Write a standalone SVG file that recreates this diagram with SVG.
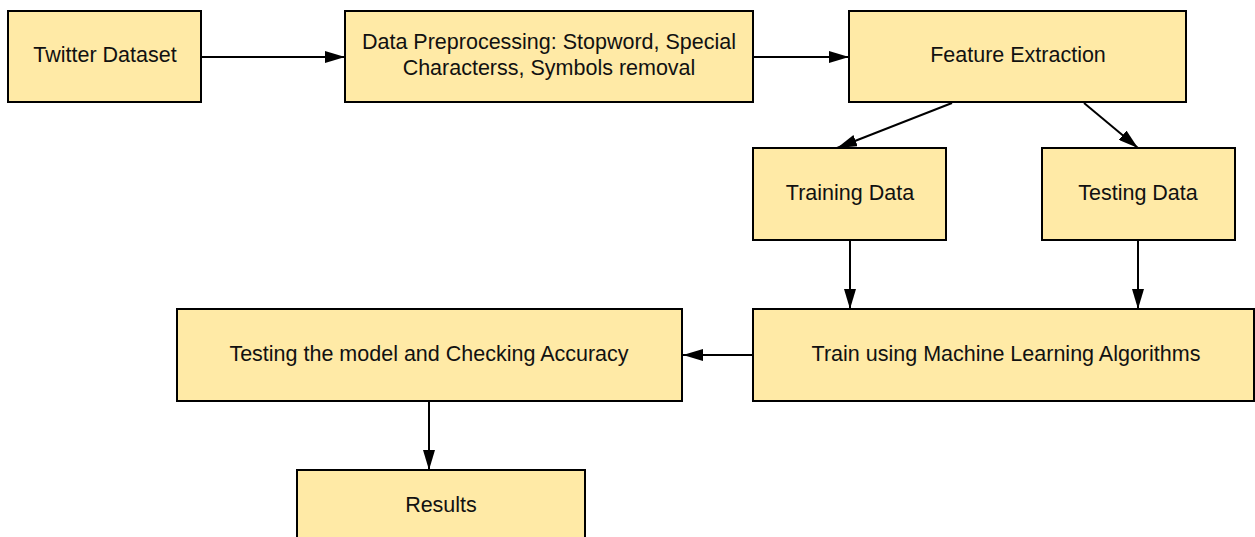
<svg xmlns="http://www.w3.org/2000/svg" width="1255" height="537" viewBox="0 0 1255 537">
  <style>
    .box { fill: #ffeaa6; stroke: #000; stroke-width: 2; }
    .lbl { font-family: "Liberation Sans", Arial, sans-serif; font-size: 21.5px; fill: #111; text-anchor: middle; }
    .edge { fill: none; stroke: #000; stroke-width: 2; marker-end: url(#arrow); }
  </style>
  <defs>
    <marker id="arrow" viewBox="0 0 20 12" refX="20" refY="6" markerWidth="20" markerHeight="12" markerUnits="userSpaceOnUse" orient="auto">
      <path d="M0,0 L20,6 L0,12 Z" fill="#000"/>
    </marker>
  </defs>
  <rect width="1255" height="537" fill="#fff"/>

  <g id="connectors">
    <line class="edge" x1="201" y1="57" x2="345" y2="57"/>
    <line class="edge" x1="753" y1="57" x2="849" y2="57"/>
    <line class="edge" x1="952" y1="103" x2="837" y2="148"/>
    <line class="edge" x1="1084" y1="103" x2="1138" y2="148"/>
    <line class="edge" x1="850" y1="241" x2="850" y2="309"/>
    <line class="edge" x1="1138" y1="241" x2="1138" y2="309"/>
    <line class="edge" x1="753" y1="355" x2="683" y2="355"/>
    <line class="edge" x1="429" y1="402" x2="429" y2="470"/>
  </g>

  <g id="twitter-dataset">
    <rect class="box" x="8" y="11" width="193" height="91"/>
    <text class="lbl" x="105" y="62">Twitter Dataset</text>
  </g>
  <g id="preprocessing">
    <rect class="box" x="345" y="11" width="408" height="91"/>
    <text class="lbl" x="549" y="49">Data Preprocessing: Stopword, Special</text>
    <text class="lbl" x="549" y="75">Characterss, Symbols removal</text>
  </g>
  <g id="feature-extraction">
    <rect class="box" x="849" y="11" width="337" height="91"/>
    <text class="lbl" x="1018" y="62">Feature Extraction</text>
  </g>
  <g id="training-data">
    <rect class="box" x="753" y="148" width="193" height="92"/>
    <text class="lbl" x="850" y="200">Training Data</text>
  </g>
  <g id="testing-data">
    <rect class="box" x="1042" y="148" width="193" height="92"/>
    <text class="lbl" x="1138" y="200">Testing Data</text>
  </g>
  <g id="train-ml">
    <rect class="box" x="753" y="309" width="501" height="92"/>
    <text class="lbl" x="1006" y="361">Train using Machine Learning Algorithms</text>
  </g>
  <g id="testing-model">
    <rect class="box" x="177" y="309" width="505" height="92"/>
    <text class="lbl" x="429" y="361">Testing the model and Checking Accuracy</text>
  </g>
  <g id="results">
    <rect class="box" x="297" y="470" width="288" height="80"/>
    <text class="lbl" x="441" y="512">Results</text>
  </g>
</svg>
